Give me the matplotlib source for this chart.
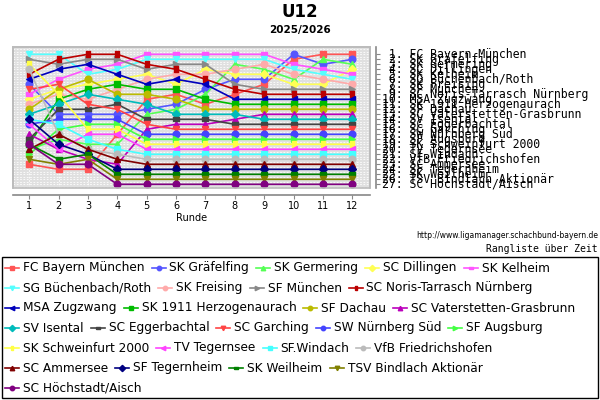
import numpy as np
import matplotlib
matplotlib.use("Agg")
import matplotlib.pyplot as plt
from matplotlib.lines import Line2D
from matplotlib.patches import Rectangle

rounds = list(range(1, 13))

teams = ["FC Bayern München", "SK Gräfelfing", "SK Germering", "SC Dillingen",
         "SK Kelheim", "SG Büchenbach/Roth", "SK Freising", "SF München",
         "SC Noris-Tarrasch Nürnberg", "MSA Zugzwang", "SK 1911 Herzogenaurach",
         "SF Dachau", "SC Vaterstetten-Grasbrunn", "SV Isental", "SC Eggerbachtal",
         "SC Garching", "SW Nürnberg Süd", "SF Augsburg", "SK Schweinfurt 2000",
         "TV Tegernsee", "SF.Windach", "VfB Friedrichshofen", "SC Ammersee",
         "SF Tegernheim", "SK Weilheim", "TSV Bindlach Aktionär", "SC Höchstadt/Aisch"]

# Platz nach jeder Runde
bayern = [23, 24, 24, 17, 10, 9, 11, 9, 7, 2, 1, 1]
graefelfing = [7, 13, 13, 13, 12, 11, 8, 6, 6, 1, 3, 2]
germering = [20, 18, 19, 19, 13, 12, 9, 3, 4, 6, 2, 3]
dillingen = [10, 8, 7, 6, 5, 7, 4, 5, 5, 7, 7, 4]
kelheim = [9, 6, 4, 3, 1, 1, 1, 1, 1, 3, 4, 5]
buechenbach = [1, 1, 5, 4, 2, 2, 2, 2, 2, 4, 5, 6]
freising = [11, 9, 10, 8, 6, 5, 5, 4, 3, 5, 6, 7]
sf_muenchen = [2, 3, 2, 2, 4, 3, 3, 7, 8, 8, 8, 8]
noris = [5, 2, 1, 1, 3, 4, 6, 8, 9, 9, 9, 9]
zugzwang = [6, 4, 3, 5, 7, 6, 7, 10, 10, 10, 10, 10]
herzogenaurach = [19, 10, 8, 7, 8, 8, 10, 11, 11, 11, 11, 11]
dachau = [12, 8, 6, 9, 9, 10, 12, 12, 12, 12, 12, 12]
vaterstetten = [17, 20, 22, 23, 16, 15, 15, 14, 13, 13, 13, 13]
isental = [13, 11, 9, 10, 11, 13, 13, 13, 14, 14, 14, 14]
eggerbachtal = [18, 12, 12, 11, 14, 14, 14, 15, 15, 15, 15, 15]
garching = [8, 7, 11, 12, 15, 16, 16, 16, 16, 16, 16, 16]
sw_nuernberg = [15, 14, 14, 14, 17, 17, 17, 17, 17, 17, 17, 17]
augsburg = [21, 16, 15, 15, 18, 18, 18, 18, 18, 18, 18, 18]
schweinfurt = [3, 9, 16, 16, 19, 19, 19, 19, 19, 19, 19, 19]
tegernsee = [15, 20, 17, 17, 20, 20, 20, 20, 20, 20, 20, 20]
windach = [14, 15, 18, 20, 21, 21, 21, 21, 21, 21, 21, 21]
friedrichshofen = [4, 17, 20, 21, 22, 22, 22, 22, 22, 22, 22, 22]
ammersee = [20, 17, 20, 22, 23, 23, 23, 23, 23, 23, 23, 23]
tegernheim = [14, 19, 21, 24, 24, 24, 24, 24, 24, 24, 24, 24]
weilheim = [19, 22, 21, 25, 25, 25, 25, 25, 25, 25, 25, 25]
bindlach = [22, 23, 22, 26, 26, 26, 26, 26, 26, 26, 26, 26]
hoechstadt = [19, 23, 23, 27, 27, 27, 27, 27, 27, 27, 27, 27]

series = [bayern, graefelfing, germering, dillingen, kelheim, buechenbach, freising,
          sf_muenchen, noris, zugzwang, herzogenaurach, dachau, vaterstetten, isental,
          eggerbachtal, garching, sw_nuernberg, augsburg, schweinfurt, tegernsee,
          windach, friedrichshofen, ammersee, tegernheim, weilheim, bindlach, hoechstadt]

colors = ["#ff5555", "#5555ff", "#55ff55", "#ffff55", "#ff55ff", "#55ffff", "#ffaaaa",
          "#888888", "#bb0000", "#0000bb", "#00bb00", "#bbbb00", "#bb00bb", "#00bbbb",
          "#444444", "#ff4444", "#4444ff", "#44ff44", "#ffff44", "#ff44ff", "#44ffff",
          "#bbbbbb", "#800000", "#000080", "#008000", "#808000", "#800080"]

tall = [(-0.5, -1), (0.5, -1), (0.5, 1), (-0.5, 1), (-0.5, -1)]
wide = [(-1, -0.5), (1, -0.5), (1, 0.5), (-1, 0.5), (-1, -0.5)]
markers = ["s", "o", "^", "D", wide, "v", "o", ">", tall, "<", "s", "o", "^", "D",
           wide, "v", "o", ">", tall, "<", "s", "o", "^", "D", wide, "v", "o"]

legend_rows = [[0, 1, 2, 3, 4], [5, 6, 7, 8], [9, 10, 11, 12], [13, 14, 15, 16, 17],
               [18, 19, 20, 21], [22, 23, 24, 25], [26]]

W, H = 600, 400
fig = plt.figure(figsize=(6, 4), dpi=100)


def fx(px):
    return px / W


def fy(py):
    return 1 - py / H


ax = fig.add_axes([fx(13), fy(188), (370 - 13) / W, (188 - 47) / H])
ax.set_facecolor("#e0e0e0")
ax.set_xlim(0.45, 12.6)
ax.set_ylim(27.74, -0.46)

for r in np.arange(0, 28.5, 0.5):
    ax.axhline(r, color="white", lw=0.6, ls=(0, (2, 2)), zorder=0)
for x in rounds:
    ax.axvline(x, color="white", lw=0.6, ls=(0, (2, 2)), zorder=0)

for i, vals in enumerate(series):
    ms = 3.8 if markers[i] == "D" else 4.8
    ax.plot(rounds, vals, color=colors[i], lw=1.2, marker=markers[i], ms=ms,
            mec=colors[i], mfc=colors[i], zorder=2)

for s in ["top", "left", "right"]:
    ax.spines[s].set_color("#bbbbbb")
    ax.spines[s].set_linewidth(1.2)
ax.spines["bottom"].set_position(("outward", 5))
ax.spines["bottom"].set_color("#888888")
ax.spines["bottom"].set_linewidth(1.2)
ax.add_patch(Rectangle((0, 0), 1, 1, transform=ax.transAxes, fill=False,
                       ec="#bbbbbb", lw=1.2, zorder=5, clip_on=False))
ax.set_xticks(rounds)
ax.set_xticklabels([str(r) for r in rounds], fontsize=7)
ax.tick_params(axis="x", length=3, color="#888888", pad=1.5)
ax.set_yticks([])
ax.set_xlabel("Runde", fontsize=7, labelpad=1)

# rechte Achse mit Platzierungen
ax2 = ax.twinx()
ax2.set_ylim(ax.get_ylim())
for s in ["top", "left", "bottom"]:
    ax2.spines[s].set_visible(False)
ax2.spines["right"].set_position(("outward", 4))
ax2.spines["right"].set_color("#888888")
ax2.spines["right"].set_linewidth(1.2)
ax2.set_yticks(range(1, 28))
ax2.set_yticklabels([])
ax2.tick_params(axis="y", length=3, color="#888888")

for i, name in enumerate(teams):
    ax.text(1.034, series[i][-1], f"{i + 1:2d}. {name}", transform=ax.get_yaxis_transform(),
            fontsize=8.3, family="DejaVu Sans Mono", va="center", ha="left", clip_on=False)

fig.text(0.5, fy(12), "U12", ha="center", va="center", fontsize=12, fontweight="bold")
fig.text(0.5, fy(30), "2025/2026", ha="center", va="center", fontsize=7.5, fontweight="bold")
fig.text(fx(598), fy(236), "http://www.ligamanager.schachbund-bayern.de", ha="right",
         va="center", fontsize=5.5)
fig.text(fx(598), fy(249), "Rangliste über Zeit", ha="right", va="center", fontsize=7,
         family="DejaVu Sans Mono")

# Legende
fig.add_artist(Rectangle((fx(2), fy(398)), 596 / W, 141 / H, transform=fig.transFigure,
                         fill=False, ec="black", lw=1))
renderer = fig.canvas.get_renderer()
for row, idxs in enumerate(legend_rows):
    y = fy(268 + 20 * row)
    x = 5
    for i in idxs:
        fig.add_artist(Line2D([fx(x), fx(x + 14)], [y, y], transform=fig.transFigure,
                              color=colors[i], lw=1.2))
        fig.add_artist(Line2D([fx(x + 7)], [y], transform=fig.transFigure, color=colors[i],
                              marker=markers[i], ms=3.2, mec=colors[i], mfc=colors[i]))
        t = fig.text(fx(x + 18), y, teams[i], fontsize=8.7, va="center", ha="left")
        w = t.get_window_extent(renderer).width
        x = x + 18 + w + 7

fig.savefig("out.png", dpi=100)
